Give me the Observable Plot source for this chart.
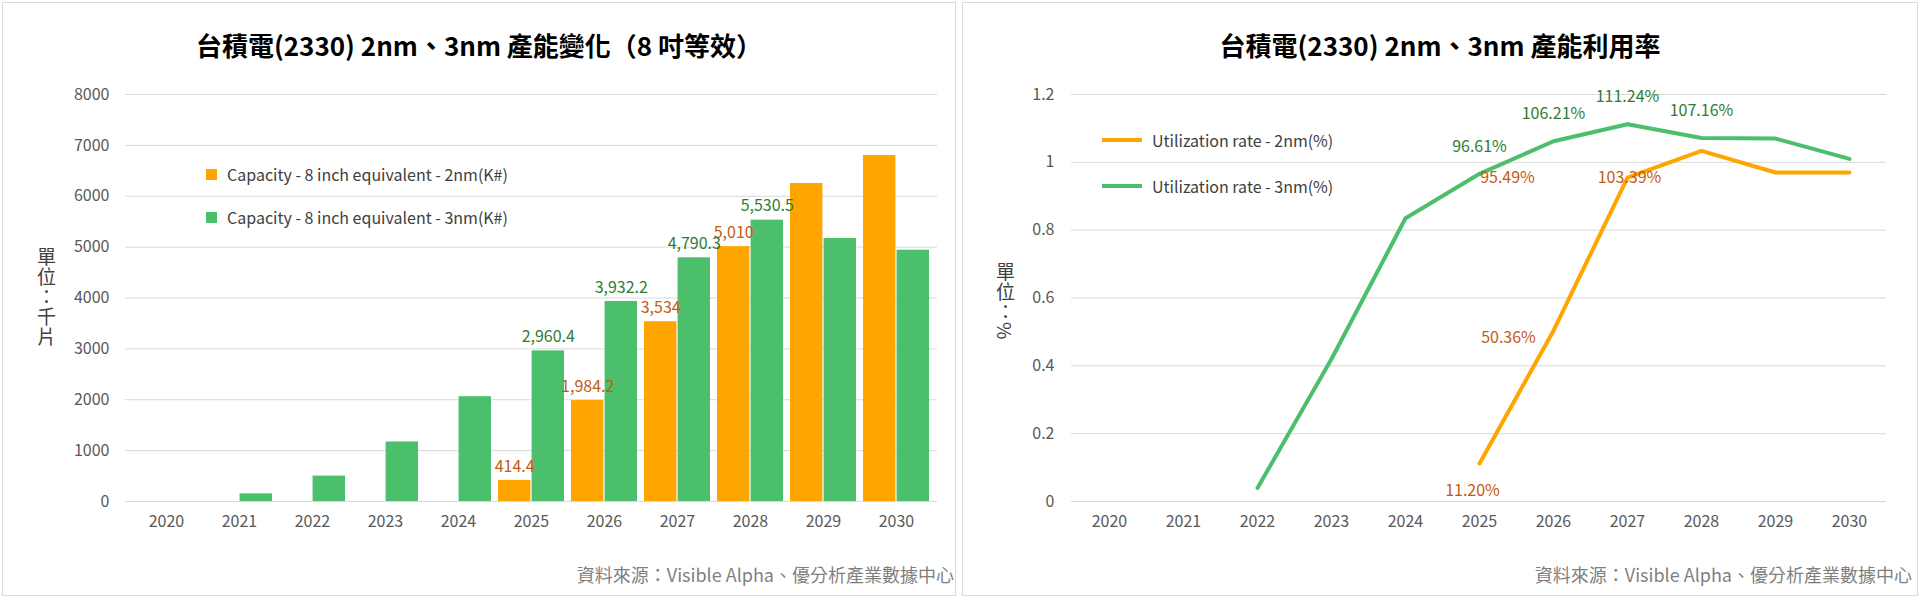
<!DOCTYPE html>
<html><head><meta charset="utf-8">
<script src="https://cdn.jsdelivr.net/npm/d3@7"></script>
<script src="https://cdn.jsdelivr.net/npm/@observablehq/plot@0.6"></script>
<style>
body{margin:0;background:#fff;font-family:"Noto Sans CJK TC","Noto Sans",sans-serif;}
#wrap{position:relative;width:1920px;height:600px;overflow:hidden;}
.panel{position:absolute;top:2px;height:594px;border:1px solid #d9d9d9;box-sizing:border-box;}
.abs{position:absolute;}
.title{font-weight:bold;font-size:26px;color:#000;text-align:center;}
.vt{writing-mode:vertical-rl;font-size:19px;color:#404040;letter-spacing:1px;}
.src{font-size:18px;color:#7f7f7f;}
.leg{font-size:16px;color:#404040;display:flex;align-items:center;gap:10px;}
.sw{width:11px;height:11px;display:inline-block;}
.ln{width:40px;height:4px;display:inline-block;}
</style></head><body>
<div id="wrap">
 <div class="panel" style="left:2px;width:954px"></div>
 <div class="panel" style="left:962px;width:956px"></div>
 <div class="abs title" style="left:0;width:958px;top:26px">台積電(2330) 2nm、3nm 產能變化（8 吋等效）</div>
 <div class="abs title" style="left:960px;width:960px;top:26px">台積電(2330) 2nm、3nm 產能利用率</div>
 <div class="abs vt" style="left:33px;top:247px">單位：千片</div>
 <div class="abs vt" style="left:992px;top:262px">單位：%</div>
 <div class="abs leg" style="left:206px;top:162px"><span class="sw" style="background:#FFA500"></span>Capacity - 8 inch equivalent - 2nm(K#)</div>
 <div class="abs leg" style="left:206px;top:205px"><span class="sw" style="background:#4BBF6B"></span>Capacity - 8 inch equivalent - 3nm(K#)</div>
 <div class="abs leg" style="left:1102px;top:128px"><span class="ln" style="background:#FFA500"></span>Utilization rate - 2nm(%)</div>
 <div class="abs leg" style="left:1102px;top:174px"><span class="ln" style="background:#4BBF6B"></span>Utilization rate - 3nm(%)</div>
 <div class="abs src" style="right:966px;top:561px">資料來源：Visible Alpha、優分析產業數據中心</div>
 <div class="abs src" style="right:8px;top:561px">資料來源：Visible Alpha、優分析產業數據中心</div>
 <div class="abs" id="c1" style="left:0;top:0"></div>
 <div class="abs" id="c2" style="left:960px;top:0"></div>
</div>
<script>
const years = ["2020","2021","2022","2023","2024","2025","2026","2027","2028","2029","2030"];
const cap2nm = [null,null,null,null,null,414.4,1984.2,3534,5010,6250,6800];
const cap3nm = [null,150,500,1170,2060,2960.4,3932.2,4790.3,5530.5,5170,4940];
const util2nm = [null,null,null,null,null,0.112,0.5036,0.9549,1.0339,0.97,0.97];
const util3nm = [null,null,0.04,0.42,0.835,0.9661,1.0621,1.1124,1.0716,1.07,1.01];
const capLabel2 = ["","","","","","414.4","1,984.2","3,534","5,010","",""];
const capLabel3 = ["","","","","","2,960.4","3,932.2","4,790.3","5,530.5","",""];
const utilLabel2 = ["","","","","","11.20%","50.36%","95.49%","103.39%","",""];
const utilLabel3 = ["","","","","","96.61%","106.21%","111.24%","107.16%","",""];
const yTicks1 = [0,1000,2000,3000,4000,5000,6000,7000,8000];
const yTicks2 = [0,0.2,0.4,0.6,0.8,1,1.2];

const ORANGE="#FFA500", GREEN="#4BBF6B", TO="#C55A11", TG="#2E7D32";
const font = "Noto Sans CJK TC";

const d2 = years.map((y,i)=>({year:y,v:cap2nm[i],lab:capLabel2[i]})).filter(d=>d.v!=null);
const d3v = years.map((y,i)=>({year:y,v:cap3nm[i],lab:capLabel3[i]})).filter(d=>d.v!=null);
const ml1 = 125, mr1 = 21;
const half = (958-ml1-mr1)/11*0.91/2;

const p1 = Plot.plot({
  width:958,height:600,marginTop:94,marginBottom:99,marginLeft:ml1,marginRight:mr1,
  style:{fontFamily:font,fontSize:"16px",color:"#595959",background:"transparent"},
  x:{domain:years,padding:0.09,label:null,tickSize:0,tickPadding:14},
  y:{domain:[0,8000],ticks:yTicks1,tickFormat:d=>String(d),label:null,tickSize:0,tickPadding:16},
  marks:[
    Plot.gridY(yTicks1,{stroke:"#d9d9d9",strokeOpacity:1}),
    Plot.barY(d2,{x:"year",y:"v",fill:ORANGE,insetRight:half}),
    Plot.barY(d3v,{x:"year",y:"v",fill:GREEN,insetLeft:half}),
    Plot.text(d2.filter(d=>d.lab),{x:"year",y:"v",text:"lab",dy:-14,dx:-half/2,fontSize:16,fill:TO}),
    Plot.text(d3v.filter(d=>d.lab),{x:"year",y:"v",text:"lab",dy:-14,dx:half/2,fontSize:16,fill:TG})
  ]
});
document.getElementById("c1").append(p1);

const pts2 = years.map((y,i)=>({year:y,v:util2nm[i],lab:utilLabel2[i]})).filter(d=>d.v!=null);
const pts3 = years.map((y,i)=>({year:y,v:util3nm[i],lab:utilLabel3[i]})).filter(d=>d.v!=null);
const off2 = {"2025":[-7,27],"2026":[-45,7],"2027":[-120,0],"2028":[-72,27]};
const lab2Marks = pts2.filter(d=>d.lab).map(d=>Plot.text([d],{x:"year",y:"v",text:"lab",fill:TO,fontSize:16,
  dx:off2[d.year][0],dy:off2[d.year][1]}));

const p2 = Plot.plot({
  width:960,height:600,marginTop:94,marginBottom:99,marginLeft:111,marginRight:34,
  style:{fontFamily:font,fontSize:"16px",color:"#595959",background:"transparent"},
  x:{type:"point",domain:years,padding:0.5,label:null,tickSize:0,tickPadding:14},
  y:{domain:[0,1.2],ticks:yTicks2,tickFormat:d=>String(d),label:null,tickSize:0,tickPadding:17},
  marks:[
    Plot.gridY(yTicks2,{stroke:"#d9d9d9",strokeOpacity:1}),
    Plot.line(pts3,{x:"year",y:"v",stroke:GREEN,strokeWidth:4}),
    Plot.line(pts2,{x:"year",y:"v",stroke:ORANGE,strokeWidth:4}),
    Plot.text(pts3.filter(d=>d.lab),{x:"year",y:"v",text:"lab",dy:-27,fill:TG,fontSize:16}),
    ...lab2Marks
  ]
});
document.getElementById("c2").append(p2);
</script>
</body></html>
